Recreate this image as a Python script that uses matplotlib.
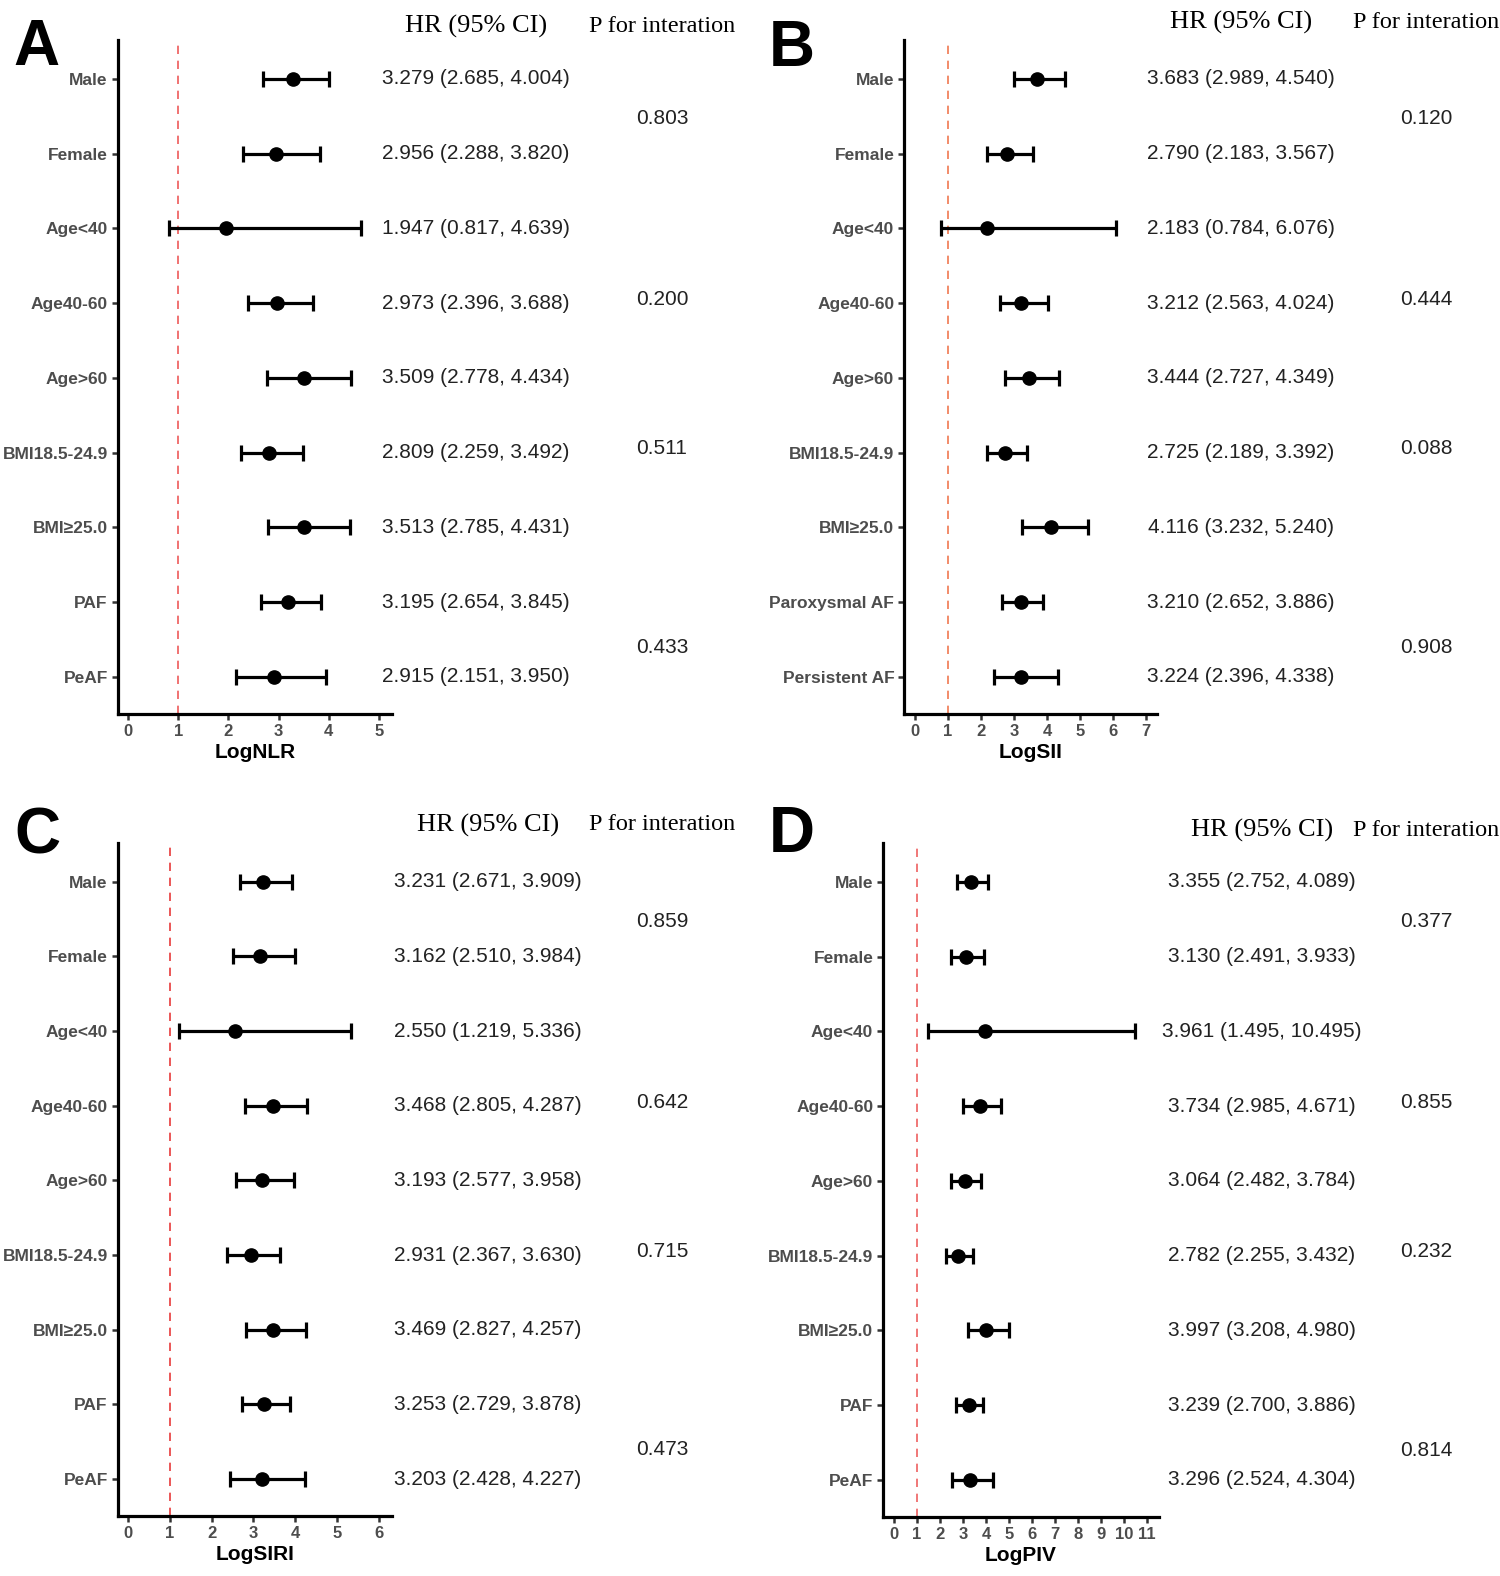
import numpy as np
import matplotlib
matplotlib.use("Agg")
import matplotlib.pyplot as plt
from matplotlib import transforms

plt.rcParams['font.family'] = ['Liberation Sans', 'DejaVu Sans']

# subgroup labels (top to bottom)
groups = ["Male", "Female", "Age<40", "Age40-60", "Age>60",
          "BMI18.5-24.9", "BMI\u226525.0", "PAF", "PeAF"]
groups_sii = ["Male", "Female", "Age<40", "Age40-60", "Age>60",
              "BMI18.5-24.9", "BMI\u226525.0", "Paroxysmal AF", "Persistent AF"]

# A: LogNLR
nlr_hr = [3.279, 2.956, 1.947, 2.973, 3.509, 2.809, 3.513, 3.195, 2.915]
nlr_lo = [2.685, 2.288, 0.817, 2.396, 2.778, 2.259, 2.785, 2.654, 2.151]
nlr_hi = [4.004, 3.820, 4.639, 3.688, 4.434, 3.492, 4.431, 3.845, 3.950]
nlr_p = ["0.803", "0.200", "0.511", "0.433"]

# B: LogSII
sii_hr = [3.683, 2.790, 2.183, 3.212, 3.444, 2.725, 4.116, 3.210, 3.224]
sii_lo = [2.989, 2.183, 0.784, 2.563, 2.727, 2.189, 3.232, 2.652, 2.396]
sii_hi = [4.540, 3.567, 6.076, 4.024, 4.349, 3.392, 5.240, 3.886, 4.338]
sii_p = ["0.120", "0.444", "0.088", "0.908"]

# C: LogSIRI
siri_hr = [3.231, 3.162, 2.550, 3.468, 3.193, 2.931, 3.469, 3.253, 3.203]
siri_lo = [2.671, 2.510, 1.219, 2.805, 2.577, 2.367, 2.827, 2.729, 2.428]
siri_hi = [3.909, 3.984, 5.336, 4.287, 3.958, 3.630, 4.257, 3.878, 4.227]
siri_p = ["0.859", "0.642", "0.715", "0.473"]

# D: LogPIV
piv_hr = [3.355, 3.130, 3.961, 3.734, 3.064, 2.782, 3.997, 3.239, 3.296]
piv_lo = [2.752, 2.491, 1.495, 2.985, 2.482, 2.255, 3.208, 2.700, 2.524]
piv_hi = [4.089, 3.933, 10.495, 4.671, 3.784, 3.432, 4.980, 3.886, 4.304]
piv_p = ["0.377", "0.855", "0.232", "0.814"]

# where the p values sit, in row units (rows run 9 .. 1 top to bottom)
p_rows = [8.47, 6.05, 4.05, 1.4]

W, H = 1500, 1576
fig = plt.figure(figsize=(W / 100, H / 100), dpi=100)

num_font = ['Liberation Sans', 'DejaVu Sans']
num_size = 15

# panel layout in pixels: axes box (left, right, top, bottom), xlim, xticks,
# letter position, HR column x, P column x, header y
panels = [
    dict(letter="A", title="LogNLR", labels=groups, hr=nlr_hr, lo=nlr_lo, hi=nlr_hi, p=nlr_p,
         box=(117.5, 392, 40, 714), xlim=(-0.21, 5.26), xticks=range(0, 6),
         lpos=(36, 48), hr_x=476, p_x=662, head_y=26, vcol='#EE5A5A'),
    dict(letter="B", title="LogSII", labels=groups_sii, hr=sii_hr, lo=sii_lo, hi=sii_hi, p=sii_p,
         box=(904, 1157, 40, 714), xlim=(-0.33, 7.33), xticks=range(0, 8),
         lpos=(792, 49), hr_x=1241, p_x=1426, head_y=22, vcol='#F07850'),
    dict(letter="C", title="LogSIRI", labels=groups, hr=siri_hr, lo=siri_lo, hi=siri_hi, p=siri_p,
         box=(117.5, 392, 843, 1516), xlim=(-0.25, 6.31), xticks=range(0, 7),
         lpos=(37, 836), hr_x=488, p_x=662, head_y=825, vcol='#E83A3A'),
    dict(letter="D", title="LogPIV", labels=groups, hr=piv_hr, lo=piv_lo, hi=piv_hi, p=piv_p,
         box=(883, 1159, 843, 1517), xlim=(-0.48, 11.52), xticks=range(0, 12),
         lpos=(792, 835), hr_x=1262, p_x=1426, head_y=830, vcol='#EE6060'),
]

rows = np.arange(9, 0, -1)

for pn in panels:
    l, r, t, b = pn['box']
    ax = fig.add_axes([l / W, 1 - b / H, (r - l) / W, (b - t) / H])
    hr = np.array(pn['hr'])
    lo = np.array(pn['lo'])
    hi = np.array(pn['hi'])

    ax.axvline(1, color=pn['vcol'], lw=1.2, ls=(0, (5, 4)), zorder=1)
    ax.errorbar(hr, rows, xerr=[hr - lo, hi - hr], fmt='o', color='black',
                ms=9.5, elinewidth=2.3, capsize=6, capthick=2.3, zorder=3)

    ax.set_xlim(pn['xlim'])
    ax.set_ylim(0.505, 9.52)
    ax.set_xticks(list(pn['xticks']))
    ax.set_xticklabels([str(v) for v in pn['xticks']], fontweight='bold',
                       fontsize=12, color='#4D4D4D')
    ax.set_yticks(rows)
    ax.set_yticklabels(pn['labels'], fontweight='bold', fontsize=12.5, color='#4D4D4D')
    ax.tick_params(length=4, width=1.8, color='#333333', pad=3)
    for s in ['top', 'right']:
        ax.spines[s].set_visible(False)
    for s in ['left', 'bottom']:
        ax.spines[s].set_linewidth(2.3)
    ax.set_xlabel(pn['title'], fontweight='bold', fontsize=15, labelpad=3)

    # panel letter
    fig.text(pn['lpos'][0] / W, 1 - pn['lpos'][1] / H, pn['letter'],
             fontsize=46, fontweight='bold', ha='center', va='center')

    # column headers
    fig.text(pn['hr_x'] / W, 1 - pn['head_y'] / H, "HR (95% CI)",
             family=['Liberation Serif', 'DejaVu Serif'], fontsize=19,
             ha='center', va='center')
    fig.text(pn['p_x'] / W, 1 - pn['head_y'] / H, "P for interation",
             family=['Liberation Serif', 'DejaVu Serif'], fontsize=17.5,
             ha='center', va='center')

    # HR text and p values, y in data rows
    trans = transforms.blended_transform_factory(fig.transFigure, ax.transData)
    for i in range(len(hr)):
        ax.text(pn['hr_x'] / W, rows[i], f"{hr[i]:.3f} ({lo[i]:.3f}, {hi[i]:.3f})",
                transform=trans, family=num_font, fontsize=num_size,
                ha='center', va='center', color='#222222')
    for j in range(len(pn['p'])):
        ax.text(pn['p_x'] / W, p_rows[j], pn['p'][j], transform=trans,
                family=num_font, fontsize=num_size,
                ha='center', va='center', color='#222222')

fig.savefig('out.png', dpi=100)
